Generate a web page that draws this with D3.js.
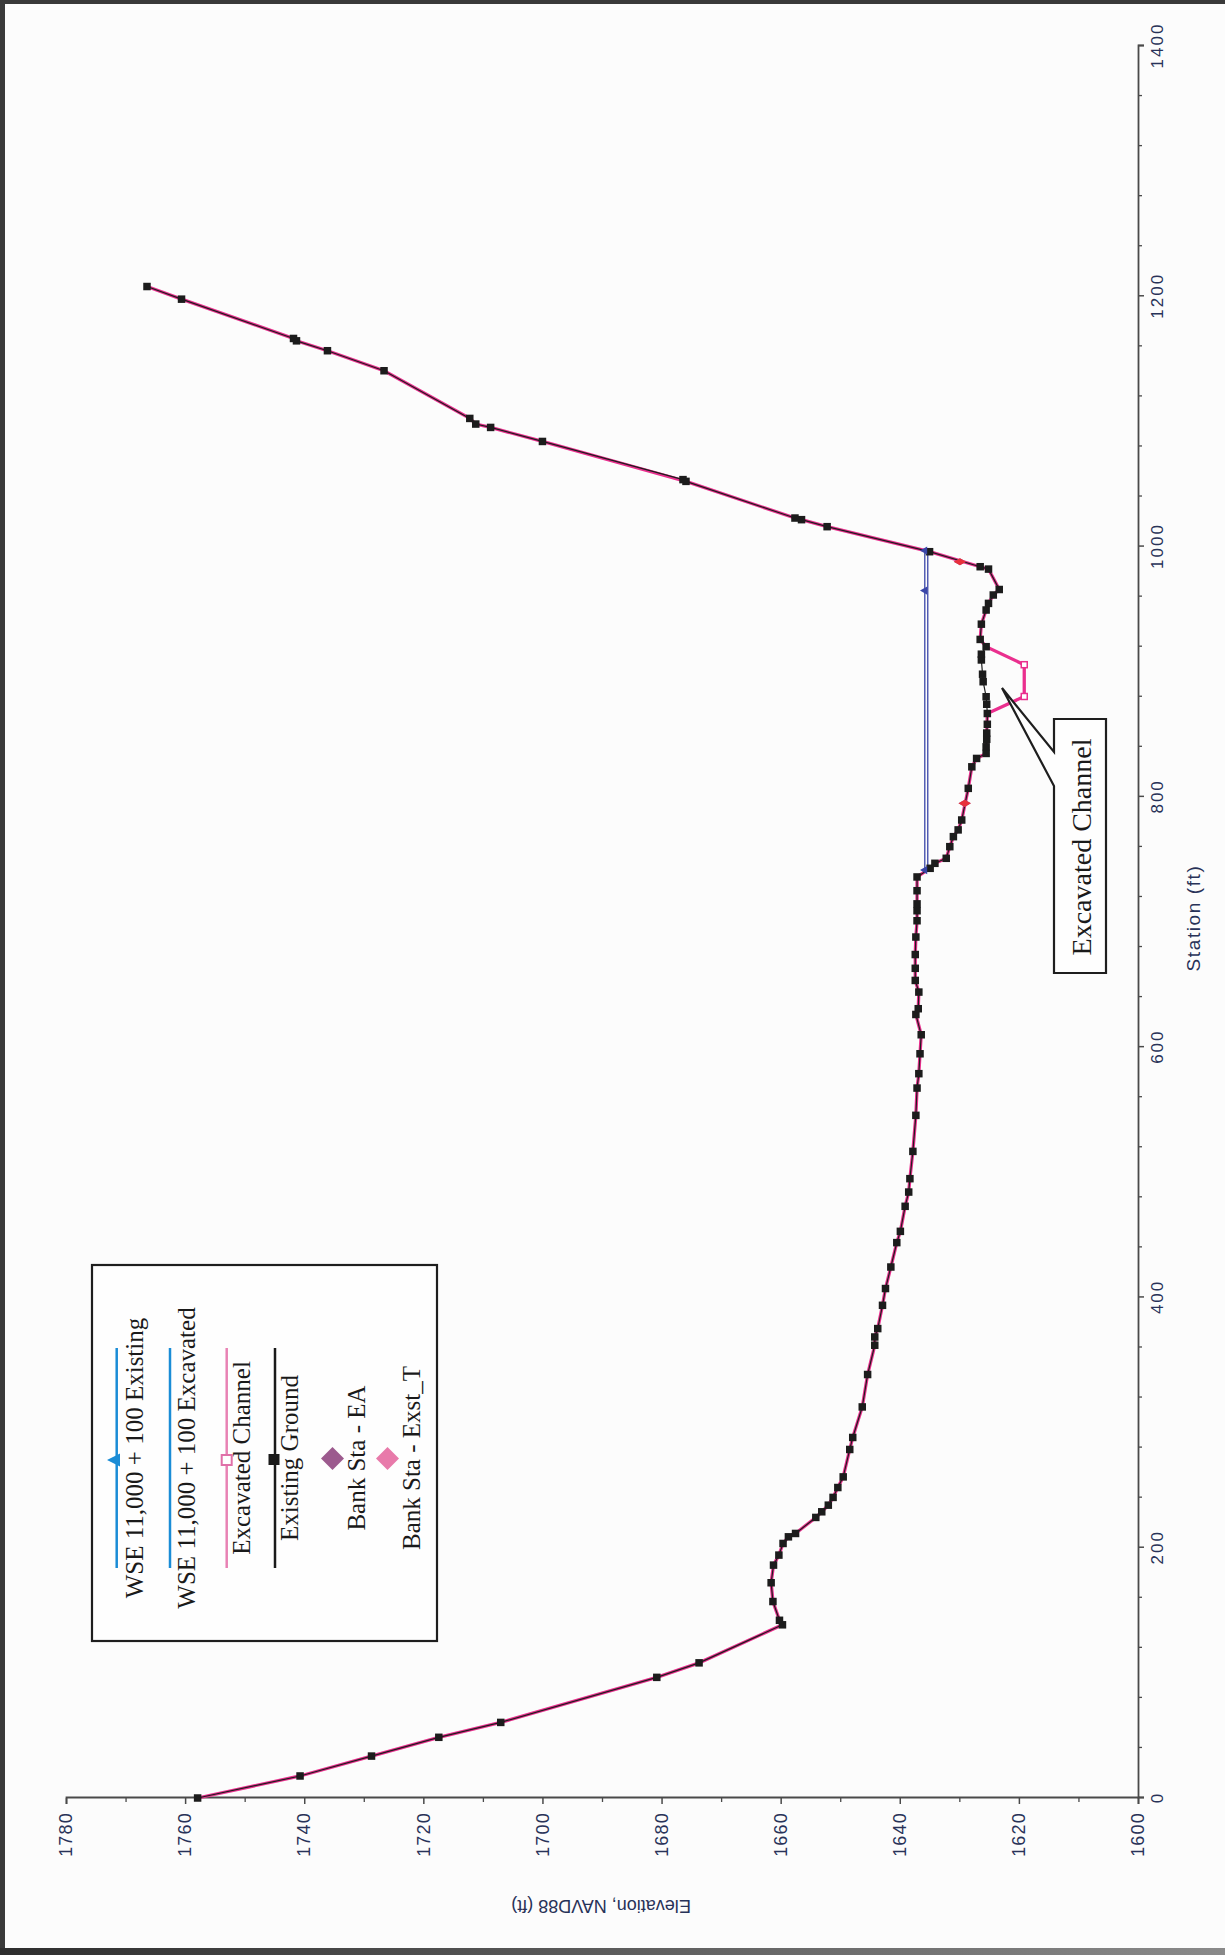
<!DOCTYPE html>
<html><head><meta charset="utf-8">
<script src="https://cdn.jsdelivr.net/npm/d3@7"></script>
<style>body{margin:0;background:#fcfcfc}svg{display:block}</style>
</head><body><svg id="chart" width="1225" height="1955"></svg>
<script>
// ---------- data ----------
const groundStation = [0,17.6,33.5,48.5,60.4,96.4,108,138.4,142,157,172,186.1,194.1,203.4,208.7,211.4,224.2,228.7,234.0,240.2,248.1,256.6,278.5,288.1,312.5,338.4,361.8,368.4,375.1,393.7,407.1,424.3,443.8,452.8,472.8,484.2,494.9,516.7,545.5,567.3,578.8,594.7,609.9,626.1,630.7,644,653.3,663,674,688,701,709,714.5,725,736,742.9,746.9,750.9,760.2,768.2,773.6,781.5,806.8,824,830.7,834.7,840,846,851,858,866.6,874,880,892,898,909.4,914,920,925.8,938,949.3,954.6,961.3,965.7,982,983.9,995.9,1015.9,1021.5,1022.8,1052.1,1053.5,1084.0,1095.2,1097.9,1102.4,1140.5,1156.5,1164.4,1166.3,1197.7,1207.8];
const groundElev = [1757.9,1740.7,1728.7,1717.4,1707.0,1680.8,1673.7,1659.7,1660.2,1661.3,1661.6,1661.2,1660.3,1659.6,1658.7,1657.5,1654.1,1653.1,1652.0,1651.2,1650.4,1649.5,1648.4,1647.9,1646.3,1645.4,1644.2,1644.2,1643.7,1642.9,1642.4,1641.5,1640.5,1639.9,1639.1,1638.5,1638.3,1637.8,1637.3,1637.1,1636.8,1636.6,1636.4,1637.3,1636.9,1636.8,1637.4,1637.4,1637.4,1637.3,1637.1,1637.1,1637.1,1637.1,1637.1,1634.9,1634.1,1632.2,1631.6,1631.0,1630.2,1629.6,1628.5,1627.9,1627.1,1625.5,1625.5,1625.4,1625.4,1625.3,1625.3,1625.4,1625.5,1626.0,1626.1,1626.3,1626.3,1625.5,1626.5,1626.3,1625.5,1625.1,1624.3,1623.3,1625.1,1626.5,1635.0,1652.2,1656.5,1657.6,1675.9,1676.4,1700.0,1708.7,1711.2,1712.2,1726.6,1736.1,1741.3,1741.8,1760.6,1766.4];

const excStation = [0,17.6,33.5,48.5,60.4,96.4,108,138.4,142,157,172,186.1,194.1,203.4,208.7,211.4,224.2,228.7,234.0,240.2,248.1,256.6,278.5,288.1,312.5,338.4,361.8,368.4,375.1,393.7,407.1,424.3,443.8,452.8,472.8,484.2,494.9,516.7,545.5,567.3,578.8,594.7,609.9,626.1,630.7,644,653.3,663,674,688,701,709,714.5,725,736,742.9,746.9,750.9,760.2,768.2,773.6,781.5,806.8,824,830.7,834.7,851,866.6,880.2,905.6,920,925.8,938,949.3,954.6,961.3,965.7,982,983.9,995.9,1015.9,1021.5,1022.8,1052.1,1084.0,1095.2,1097.9,1102.4,1140.5,1156.5,1164.4,1166.3,1197.7,1207.8];
const excElev = [1757.9,1740.7,1728.7,1717.4,1707.0,1680.8,1673.7,1659.7,1660.2,1661.3,1661.6,1661.2,1660.3,1659.6,1658.7,1657.5,1654.1,1653.1,1652.0,1651.2,1650.4,1649.5,1648.4,1647.9,1646.3,1645.4,1644.2,1644.2,1643.7,1642.9,1642.4,1641.5,1640.5,1639.9,1639.1,1638.5,1638.3,1637.8,1637.3,1637.1,1636.8,1636.6,1636.4,1637.3,1636.9,1636.8,1637.4,1637.4,1637.4,1637.3,1637.1,1637.1,1637.1,1637.1,1637.1,1634.9,1634.1,1632.2,1631.6,1631.0,1630.2,1629.6,1628.5,1627.9,1627.1,1625.5,1625.4,1625.3,1619.1,1619.1,1625.5,1626.5,1626.3,1625.5,1625.1,1624.3,1623.3,1625.1,1626.5,1635.0,1652.2,1656.5,1657.6,1675.9,1700.0,1708.7,1711.2,1712.2,1726.6,1736.1,1741.3,1741.8,1760.6,1766.4];
const excMarkerStation = [880.2, 905.6];
const excMarkerElev = [1619.1, 1619.1];

const wseExistingStation = [741.5, 964.8, 996.8];
const wseExistingElev = [1635.8, 1635.8, 1635.8];
const wseExcavatedStation = [741.5, 996.8];
const wseExcavatedElev = [1635.3, 1635.3];

const bankEAStation = [794.8, 987.9];
const bankEAElev = [1629.1, 1629.9];
const bankExstStation = [794.8, 987.9];
const bankExstElev = [1629.1, 1629.9];

const elevTicks = [1600,1620,1640,1660,1680,1700,1720,1740,1760,1780];
const elevMinorTicks = [1610,1630,1650,1670,1690,1710,1730,1750,1770];
const stationTicks = [0,200,400,600,800,1000,1200,1400];
const stationMinorTicks = [40,80,120,160,240,280,320,360,440,480,520,560,640,680,720,760,840,880,920,960,1040,1080,1120,1160,1240,1280,1320,1360];

const legendLabels = ["WSE 11,000 + 100 Existing","WSE 11,000 + 100 Excavated","Excavated Channel","Existing Ground","Bank Sta - EA","Bank Sta - Exst_T"];
const xTitle = "Station (ft)";
const yTitle = "Elevation, NAVD88 (ft)";
const calloutText = "Excavated Channel";

// ---------- drawing ----------
const svg = d3.select("#chart");
svg.append("rect").attr("width",1225).attr("height",1955).attr("fill","#fcfcfc");
svg.append("rect").attr("x",0).attr("y",0).attr("width",1225).attr("height",4).attr("fill","#3a3a3a");
svg.append("rect").attr("x",0).attr("y",0).attr("width",5).attr("height",1955).attr("fill","#3a3a3a");
const grad = svg.append("defs").append("linearGradient").attr("id","bg");
grad.append("stop").attr("offset","0").attr("stop-color","#2e2e2e");
grad.append("stop").attr("offset","1").attr("stop-color","#8a8a8a");
svg.append("rect").attr("x",0).attr("y",1948).attr("width",1225).attr("height",7).attr("fill","url(#bg)");

const W = 1752, H = 1072;
// chart drawn in its natural orientation, then turned a quarter turn counter-clockwise
const g = svg.append("g").attr("transform","translate(66,1798) rotate(-90)");
const x = d3.scaleLinear().domain([0,1400]).range([0,W]);
const y = d3.scaleLinear().domain([1600,1780]).range([H,0]);

const axisColor = "#4a4a4a", labelColor = "#283258";

function styleAxis(sel){
  sel.select(".domain").attr("stroke",axisColor).attr("stroke-width",1.8);
  sel.selectAll(".tick line").attr("stroke",axisColor).attr("stroke-width",1.5);
}
// elevation axis (left in natural orientation)
const yAx = g.append("g").call(d3.axisLeft(y).tickValues(elevTicks).tickSize(6).tickPadding(8).tickFormat(d3.format("d")));
styleAxis(yAx);
yAx.selectAll("text").attr("font-family","'Liberation Sans', Arial, sans-serif").attr("font-size",18)
  .attr("letter-spacing","1.2px").attr("fill",labelColor);
const yMin = g.append("g").call(d3.axisLeft(y).tickValues(elevMinorTicks).tickSize(4).tickFormat(""));
yMin.select(".domain").remove();
yMin.selectAll(".tick line").attr("stroke",axisColor).attr("stroke-width",1.3);

// station axis (bottom in natural orientation)
const xAx = g.append("g").attr("transform",`translate(0,${H})`)
  .call(d3.axisBottom(x).tickValues(stationTicks).tickSize(6).tickPadding(7).tickFormat(d3.format("d")));
styleAxis(xAx);
xAx.selectAll("text").attr("font-family","'Liberation Sans', Arial, sans-serif").attr("font-size",17)
  .attr("letter-spacing","2px").attr("fill",labelColor);
const xMin = g.append("g").attr("transform",`translate(0,${H})`)
  .call(d3.axisBottom(x).tickValues(stationMinorTicks).tickSize(4).tickFormat(""));
xMin.select(".domain").remove();
xMin.selectAll(".tick line").attr("stroke",axisColor).attr("stroke-width",1.3);

// titles
g.append("text").attr("transform",`translate(${x(700)+4},${H+62})`).attr("text-anchor","middle")
  .attr("font-family","'Liberation Sans', Arial, sans-serif").attr("font-size",19).attr("letter-spacing","1.6px")
  .attr("fill",labelColor).text(xTitle);
g.append("text").attr("transform",`translate(-102,${535}) rotate(-90)`).attr("text-anchor","middle")
  .attr("font-family","'Liberation Sans', Arial, sans-serif").attr("font-size",18)
  .attr("fill",labelColor).text(yTitle);

const line = d3.line().x(d=>x(d[0])).y(d=>y(d[1]));
const ground = d3.zip(groundStation, groundElev);
const exc = d3.zip(excStation, excElev);

g.append("path").datum(exc).attr("d",line).attr("fill","none").attr("stroke","#ea2f8e").attr("stroke-width",3.3);
g.append("path").datum(ground).attr("d",line).attr("fill","none").attr("stroke","#1e1e1e").attr("stroke-width",1.2);

// water surface lines
const wseEx = d3.zip(wseExistingStation, wseExistingElev);
const wseEc = d3.zip(wseExcavatedStation, wseExcavatedElev);
g.append("path").datum(wseEx).attr("d",line).attr("fill","none").attr("stroke","#3a46a8").attr("stroke-width",1.3);
g.append("path").datum(wseEc).attr("d",line).attr("fill","none").attr("stroke","#3a46a8").attr("stroke-width",1.3);

// excavated channel open squares
g.selectAll(".excm").data(d3.zip(excMarkerStation, excMarkerElev)).join("rect")
  .attr("x",d=>x(d[0])-3).attr("y",d=>y(d[1])-3).attr("width",6).attr("height",6)
  .attr("fill","#fff").attr("stroke","#ea2f8e").attr("stroke-width",1.5);

// ground squares
g.selectAll(".gm").data(ground).join("rect")
  .attr("x",d=>x(d[0])-3.75).attr("y",d=>y(d[1])-3.75).attr("width",7.5).attr("height",7.5).attr("fill","#1c1c1c");

// bank stations
const diamond = d3.symbol().type(d3.symbolDiamond).size(44);
g.selectAll(".bea").data(d3.zip(bankEAStation, bankEAElev)).join("path")
  .attr("d",diamond).attr("transform",d=>`translate(${x(d[0])},${y(d[1])})`).attr("fill","#9c5a8e");
g.selectAll(".bex").data(d3.zip(bankExstStation, bankExstElev)).join("path")
  .attr("d",diamond).attr("transform",d=>`translate(${x(d[0])},${y(d[1])})`).attr("fill","#e8303c");

// WSE triangles
const tri = d3.symbol().type(d3.symbolTriangle).size(30);
g.selectAll(".wt").data(wseEx).join("path")
  .attr("d",tri).attr("transform",d=>`translate(${x(d[0])},${y(d[1])})`).attr("fill","#3a46a8");

// ---------- callout ----------
svg.append("path")
  .attr("d","M1054,719 L1106,719 L1106,973 L1054,973 L1054,786 L1002,688 L1054,752 Z")
  .attr("fill","#fefefe").attr("stroke","#1e1e1e").attr("stroke-width",2.2).attr("stroke-linejoin","miter");
svg.append("text").attr("transform","translate(1091,847) rotate(-90)").attr("text-anchor","middle")
  .attr("font-family","'Liberation Serif', 'Times New Roman', serif").attr("font-size",28).attr("fill","#1a1a1a")
  .text(calloutText);

// ---------- legend ----------
const lg = svg.append("g");
lg.append("rect").attr("x",92).attr("y",1265).attr("width",345).attr("height",376)
  .attr("fill","#fefefe").attr("stroke","#1e1e1e").attr("stroke-width",2.2);
const legendLineX = [116.7, 170, 226.7, 275];
const legendLineColor = ["#1a8cd6","#1a8cd6","#e882b4","#1a1a1a"];
legendLineX.forEach((lx,i)=>{
  lg.append("line").attr("x1",lx).attr("x2",lx).attr("y1",1348).attr("y2",1568)
    .attr("stroke",legendLineColor[i]).attr("stroke-width",2.5);
});
lg.append("path").attr("d","M107,1460 L120,1453.5 L120,1466.5 Z").attr("fill","#1a8cd6");
lg.append("rect").attr("x",221.7).attr("y",1455).attr("width",10).attr("height",10)
  .attr("fill","#fff").attr("stroke","#e070a8").attr("stroke-width",2);
lg.append("rect").attr("x",268.5).attr("y",1454).attr("width",11).attr("height",11).attr("fill","#1a1a1a");
lg.append("path").attr("d","M332.5,1447 L344,1458.5 L332.5,1470 L321,1458.5 Z").attr("fill","#9c5a8e");
lg.append("path").attr("d","M387.5,1447 L399,1458.5 L387.5,1470 L376,1458.5 Z").attr("fill","#e87aaa");
const legendTextX = [143.3, 195, 250, 298.3, 365, 420];
legendLabels.forEach((t,i)=>{
  lg.append("text").attr("transform",`translate(${legendTextX[i]},1458) rotate(-90)`).attr("text-anchor","middle")
    .attr("font-family","'Liberation Serif', 'Times New Roman', serif").attr("font-size",25).attr("fill","#1a1a1a")
    .text(t);
});
</script>
</body></html>
